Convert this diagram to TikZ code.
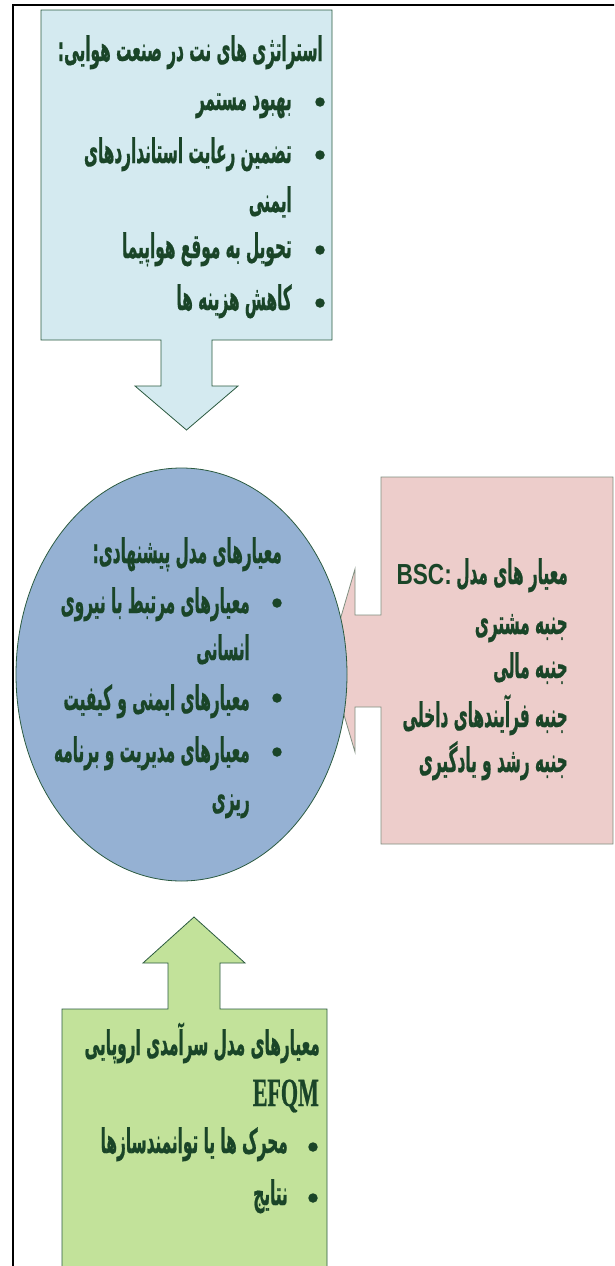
\documentclass[tikz,border=0pt]{standalone}
\usepackage{fontspec}
\TeXXeTstate=1
\newfontfamily\fafont[Script=Arabic,FakeStretch=0.45,BoldFeatures={FakeBold=0.6}]{DejaVu Sans}
\newfontfamily\latsans[FakeStretch=0.78]{Liberation Sans}
\newfontfamily\latserif[FakeStretch=0.55,BoldFeatures={FakeBold=0.6}]{Liberation Serif}
\definecolor{txt}{HTML}{1A4528}
\definecolor{edge}{HTML}{2B5A40}
\definecolor{pinkedge}{HTML}{7F8F80}
\definecolor{blueA}{HTML}{D4EAF0}
\definecolor{blueB}{HTML}{95B1D3}
\definecolor{pinkA}{HTML}{EDCDCB}
\definecolor{greenA}{HTML}{C2E29A}
\newcommand\faR[1]{\beginR #1\endR}
\tikzset{
  fa/.style={font=\fafont\bfseries\fontsize{34}{40}\selectfont, text=txt, inner sep=0pt, anchor=base east},
  bulletdot/.style={circle, fill=txt, inner sep=0pt, minimum size=9.5pt},
  shapeline/.style={draw=edge, line width=0.8pt, line join=miter},
}
\begin{document}
\begin{tikzpicture}[x=1pt,y=-1pt]
\useasboundingbox (0,0) rectangle (614,1266);
\begin{scope}
\clip (0,0) rectangle (614,1266);
% frame
\draw[line width=2pt] (12.5,1270) -- (12.5,5) -- (620,5);
% top callout
\draw[shapeline, fill=blueA] (41,10) -- (332,10) -- (332,340) -- (212,340) -- (212,386) -- (238,386) -- (186.5,430) -- (135,386) -- (161,386) -- (161,340) -- (41,340) -- cycle;
% pink callout (behind ellipse)
\draw[draw=pinkedge, line width=0.8pt, fill=pinkA] (381,477) -- (613,477) -- (613,844) -- (381,844) -- (381,707) -- (355,707) -- (355,752) -- (328,661) -- (355,569) -- (355,615) -- (381,615) -- cycle;
% ellipse
\draw[shapeline, fill=blueB] (181.5,674.5) ellipse [x radius=165.5pt, y radius=206.5pt];
% green callout
\draw[shapeline, fill=greenA] (62,1280) -- (62,1009) -- (168,1009) -- (168,963) -- (143,963) -- (194,917) -- (245,963) -- (220,963) -- (220,1009) -- (327,1009) -- (327,1280);
\end{scope}

% top box text
\node[fa] (t0) at (323,61) {\faR{استراتژی های نت در صنعت هوایی:}};
\node[bulletdot] (b1) at (320,102) {};
\node[fa] (t1) at (292,110) {\faR{بهبود مستمر}};
\node[bulletdot] (b2) at (320,155) {};
\node[fa] (t2) at (292,163) {\faR{تضمین رعایت استانداردهای}};
\node[fa] (t3) at (292,212) {\faR{ایمنی}};
\node[bulletdot] (b3) at (320,250) {};
\node[fa] (t4) at (292,258) {\faR{تحویل به موقع هواپیما}};
\node[bulletdot] (b4) at (320,303) {};
\node[fa] (t5) at (292,310) {\faR{کاهش هزینه ها}};

% ellipse text
\node[fa] (e0) at (282,563) {\faR{معیارهای مدل پیشنهادی:}};
\node[bulletdot] (eb1) at (277,603) {};
\node[fa] (e1) at (250,613) {\faR{معیارهای مرتبط با نیروی}};
\node[fa] (e2) at (250,660) {\faR{انسانی}};
\node[bulletdot] (eb2) at (277,698) {};
\node[fa] (e3) at (250,710) {\faR{معیارهای ایمنی و کیفیت}};
\node[bulletdot] (eb3) at (277,752) {};
\node[fa] (e4) at (250,762) {\faR{معیارهای مدیریت و برنامه}};
\node[fa] (e5) at (250,810) {\faR{ریزی}};

% pink text
\node[fa] (p0) at (568,584) {\faR{معیار های مدل}};
\node[font=\latsans\bfseries\fontsize{29}{30}\selectfont, text=txt, inner sep=0pt, anchor=base east] (p0b) at (452,584) {BSC:};
\node[fa] (p1) at (568,634) {\faR{جنبه مشتری}};
\node[fa] (p2) at (568,678) {\faR{جنبه مالی}};
\node[fa] (p3) at (568,727) {\faR{جنبه فرآیندهای داخلی}};
\node[fa] (p4) at (568,772) {\faR{جنبه رشد و یادگیری}};

% green text
\node[fa] (g0) at (320,1055) {\faR{معیارهای مدل سرآمدی اروپایی}};
\node[font=\latserif\bfseries\fontsize{40}{40}\selectfont, text=txt, inner sep=0pt, anchor=base east] (g1) at (319,1106) {EFQM};
\node[bulletdot] (gb1) at (313,1147) {};
\node[fa] (g2) at (288,1153) {\faR{محرک ها یا توانمندسازها}};
\node[bulletdot] (gb2) at (313,1198) {};
\node[fa] (g3) at (288,1205) {\faR{نتایج}};
\end{tikzpicture}
\end{document}
